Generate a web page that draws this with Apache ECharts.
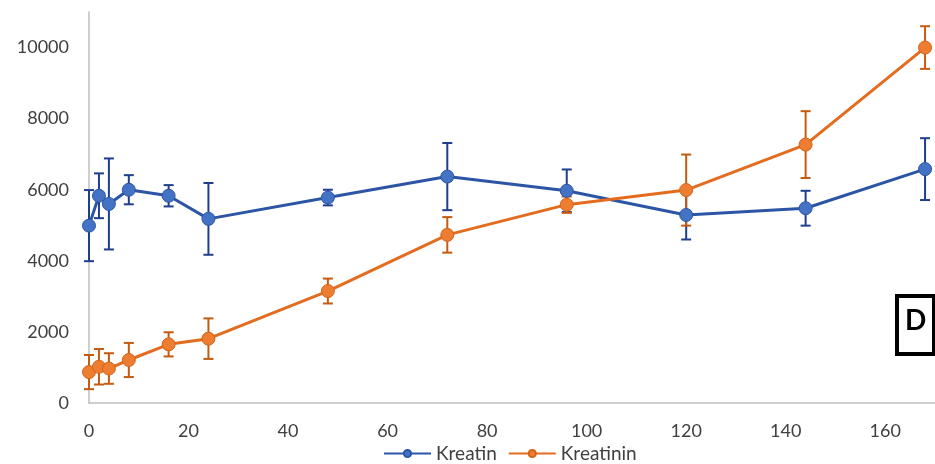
<!DOCTYPE html>
<html>
<head>
<meta charset="utf-8">
<script src="https://cdn.jsdelivr.net/npm/echarts@6/dist/echarts.min.js"></script>
<style>
  html, body { margin: 0; padding: 0; background: #fff; }
  #chart { width: 935px; height: 464px; }
</style>
</head>
<body>
<div id="chart"></div>
<script>
// time points (h)
const hours = [0, 2, 4, 8, 16, 24, 48, 72, 96, 120, 144, 168];
const kreatin = [4990, 5830, 5600, 6000, 5830, 5180, 5780, 6370, 5970, 5290, 5480, 6580];
const kreatinErr = [1000, 630, 1280, 410, 300, 1010, 220, 945, 600, 690, 490, 870];
const kreatinin = [870, 1020, 970, 1210, 1650, 1810, 3150, 4730, 5580, 5990, 7270, 10000];
const kreatininErr = [480, 500, 430, 480, 340, 570, 350, 500, 230, 1000, 940, 600];
const yTicks = [0, 2000, 4000, 6000, 8000, 10000];

const font = 'Lato, "Open Sans", sans-serif';

function pairs(ys) {
  return hours.map((h, i) => [h, ys[i]]);
}

function errData(ys, errs) {
  return hours.map((h, i) => [h, ys[i] - errs[i], ys[i] + errs[i]]);
}

function errSeries(name, ys, errs, color) {
  return {
    name: name,
    type: 'custom',
    z: 3,
    silent: true,
    data: errData(ys, errs),
    renderItem: function (params, api) {
      const lo = api.coord([api.value(0), api.value(1)]);
      const hi = api.coord([api.value(0), api.value(2)]);
      const w = 5;
      const style = { stroke: color, lineWidth: 2 };
      return {
        type: 'group',
        children: [
          { type: 'line', shape: { x1: lo[0], y1: lo[1], x2: hi[0], y2: hi[1] }, style: style },
          { type: 'line', shape: { x1: lo[0] - w, y1: lo[1], x2: lo[0] + w, y2: lo[1] }, style: style },
          { type: 'line', shape: { x1: hi[0] - w, y1: hi[1], x2: hi[0] + w, y2: hi[1] }, style: style }
        ]
      };
    }
  };
}

const chart = echarts.init(document.getElementById('chart'));
chart.setOption({
  animation: false,
  backgroundColor: '#fff',
  textStyle: { fontFamily: font },
  grid: { left: 89, right: 0, top: 12, bottom: 61 },
  legend: {
    data: ['Kreatin', 'Kreatinin'],
    top: 439,
    left: 378,
    itemWidth: 47,
    itemHeight: 9,
    itemGap: 11,
    textStyle: { fontSize: 19, color: '#404040', fontFamily: font }
  },
  xAxis: {
    type: 'value',
    min: 0,
    max: 170,
    interval: 20,
    axisLabel: { showMaxLabel: false, fontSize: 18, color: '#404040', margin: 19, fontFamily: font },
    axisTick: { show: false },
    axisLine: { show: true, lineStyle: { color: '#BFBFBF', width: 1.5 } },
    splitLine: { show: false }
  },
  yAxis: {
    type: 'value',
    min: 0,
    max: 11000,
    interval: 2000,
    axisLabel: {
      fontSize: 18, color: '#404040', margin: 20, fontFamily: font,
      formatter: v => (yTicks.includes(v) ? String(v) : '')
    },
    axisTick: { show: false },
    axisLine: { show: true, lineStyle: { color: '#BFBFBF', width: 1.5 } },
    splitLine: { show: false }
  },
  series: [
    {
      name: 'Kreatin',
      type: 'line',
      data: pairs(kreatin),
      symbol: 'circle',
      symbolSize: 13,
      z: 4,
      lineStyle: { color: '#2C55A6', width: 3 },
      itemStyle: { color: '#4472C4', borderColor: '#2C55A6', borderWidth: 1 }
    },
    {
      name: 'Kreatinin',
      type: 'line',
      data: pairs(kreatinin),
      symbol: 'circle',
      symbolSize: 13,
      z: 4,
      lineStyle: { color: '#E36C1F', width: 3 },
      itemStyle: { color: '#ED7D31', borderColor: '#D4641A', borderWidth: 1 }
    },
    errSeries('KreatinErr', kreatin, kreatinErr, '#1F3E8E'),
    errSeries('KreatininErr', kreatinin, kreatininErr, '#C55A11')
  ],
  graphic: [
    {
      type: 'rect',
      left: 895,
      top: 294,
      shape: { width: 37, height: 58 },
      style: { fill: '#fff', stroke: '#000', lineWidth: 4 }
    },
    {
      type: 'text',
      left: 905,
      top: 307,
      style: { text: 'D', fontSize: 28, fontWeight: 'bold', fill: '#000', fontFamily: font }
    }
  ]
});
</script>
</body>
</html>
